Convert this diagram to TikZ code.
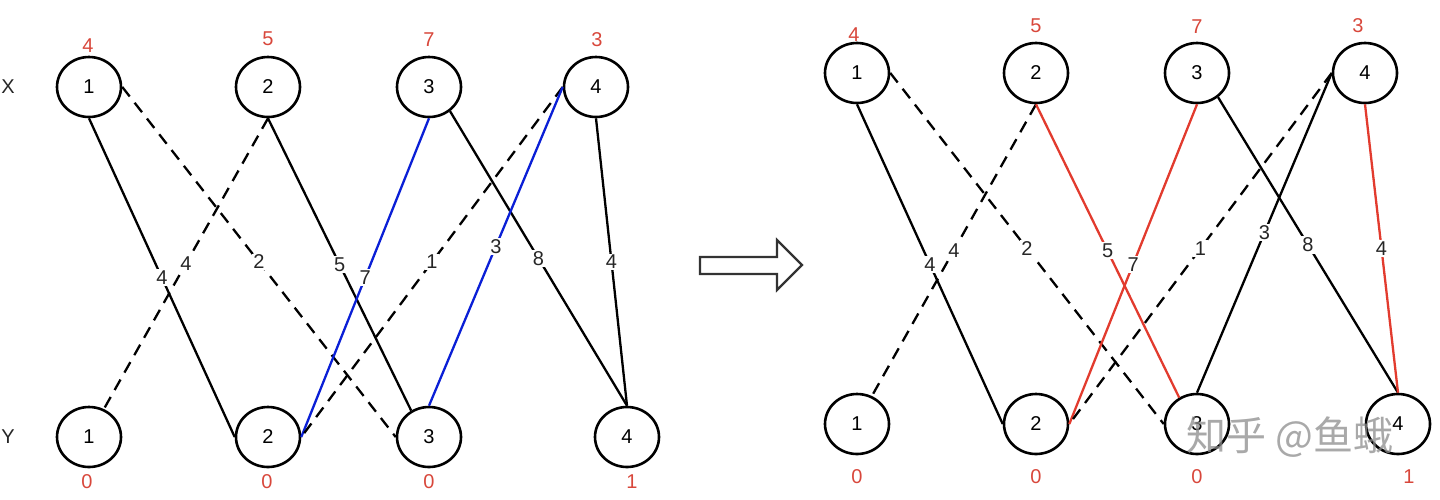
\documentclass[tikz,border=0pt]{standalone}
\usepackage{fontspec}
\setmainfont{Liberation Sans}
\newfontfamily\cjk{Noto Sans CJK SC}
\usetikzlibrary{shapes.geometric}
\definecolor{lblred}{HTML}{D8473B}
\definecolor{edgered}{HTML}{E23B2E}
\definecolor{edgeblue}{HTML}{0A1FD6}
\begin{document}
\begin{tikzpicture}[x=1pt,y=-1pt,
  every node/.style={font=\fontsize{20}{22}\selectfont},
  vtx/.style={ellipse, draw=black, line width=2.6pt, minimum width=64pt, minimum height=60pt, inner sep=0pt, fill=white},
  el/.style={midway, fill=white, inner sep=1.5pt, text=black!85},
  rl/.style={text=lblred, inner sep=0pt},
  ax/.style={text=black!85, inner sep=0pt},
  se/.style={draw=black, line width=2.3pt},
  de/.style={draw=black, line width=2.3pt, dash pattern=on 12pt off 8pt},
  be/.style={draw=edgeblue, line width=2.3pt},
  re/.style={draw=edgered, line width=2.3pt}]
\useasboundingbox (0,0) rectangle (1440,499);
% ---------------- left diagram ----------------
\node[ax] (lX) at (8,87) {X};
\node[ax] (lY) at (8,437) {Y};
\node[vtx] (lx1) at (89,87) {1};
\node[vtx] (lx2) at (268,87) {2};
\node[vtx] (lx3) at (429,87) {3};
\node[vtx] (lx4) at (596,87) {4};
\node[vtx] (ly1) at (89,437) {1};
\node[vtx] (ly2) at (268,437) {2};
\node[vtx] (ly3) at (429,437) {3};
\node[vtx] (ly4) at (627,437) {4};
\node[rl] (lrx1) at (88,46) {4};
\node[rl] (lrx2) at (268,39) {5};
\node[rl] (lrx3) at (429,40) {7};
\node[rl] (lrx4) at (597,40) {3};
\node[rl] (lry1) at (87,482) {0};
\node[rl] (lry2) at (267,482) {0};
\node[rl] (lry3) at (429,482) {0};
\node[rl] (lry4) at (632,482) {1};
\draw[se] (lx1.south) -- node[el]{4} (ly2.west);
\draw[de] (lx1.east) -- node[el]{2} (ly3.west);
\draw[de] (lx2.south) -- node[el]{4} (ly1.62);
\draw[se] (lx2.south) -- node[el]{5} (ly3.124);
\draw[be] (lx3.south) -- node[el]{7} (ly2.east);
\draw[se] (lx3.311) -- node[el]{8} (ly4.north);
\draw[de] (lx4.west) -- node[el]{1} (ly2.east);
\draw[be] (lx4.west) -- node[el]{3} (ly3.north);
\draw[se] (lx4.south) -- node[el]{4} (ly4.north);
% ---------------- arrow ----------------
\draw[line width=2.2pt, draw=black!80, line join=miter] (700,257) -- (777,257) -- (777,240) -- (802,265) -- (777,290) -- (777,274) -- (700,274) -- cycle;
% ---------------- right diagram ----------------
\node[vtx] (rx1) at (857,73) {1};
\node[vtx] (rx2) at (1036,73) {2};
\node[vtx] (rx3) at (1197,73) {3};
\node[vtx] (rx4) at (1365,73) {4};
\node[vtx] (ry1) at (857,424) {1};
\node[vtx] (ry2) at (1036,424) {2};
\node[vtx] (ry3) at (1197,424) {3};
\node[vtx] (ry4) at (1398,424) {4};
\node[rl] (rrx1) at (854,35) {4};
\node[rl] (rrx2) at (1036,26) {5};
\node[rl] (rrx3) at (1197,27) {7};
\node[rl] (rrx4) at (1358,26) {3};
\node[rl] (rry1) at (857,477) {0};
\node[rl] (rry2) at (1036,477) {0};
\node[rl] (rry3) at (1197,477) {0};
\node[rl] (rry4) at (1409,477) {1};
\draw[se] (rx1.south) -- node[el]{4} (ry2.west);
\draw[de] (rx1.east) -- node[el]{2} (ry3.west);
\draw[de] (rx2.south) -- node[el]{4} (ry1.62);
\draw[re] (rx2.south) -- node[el]{5} (ry3.124);
\draw[re] (rx3.south) -- node[el]{7} (ry2.east);
\draw[se] (rx3.311) -- node[el]{8} (ry4.north);
\draw[de] (rx4.west) -- node[el]{1} (ry2.east);
\draw[se] (rx4.west) -- node[el]{3} (ry3.north);
\draw[re] (rx4.south) -- node[el]{4} (ry4.north);
% watermark
\node[text=black!45, opacity=0.75, font=\cjk\fontsize{40}{42}\selectfont, inner sep=0pt] (wm) at (1290,437) {知乎 @鱼蛾};
\end{tikzpicture}
\end{document}
